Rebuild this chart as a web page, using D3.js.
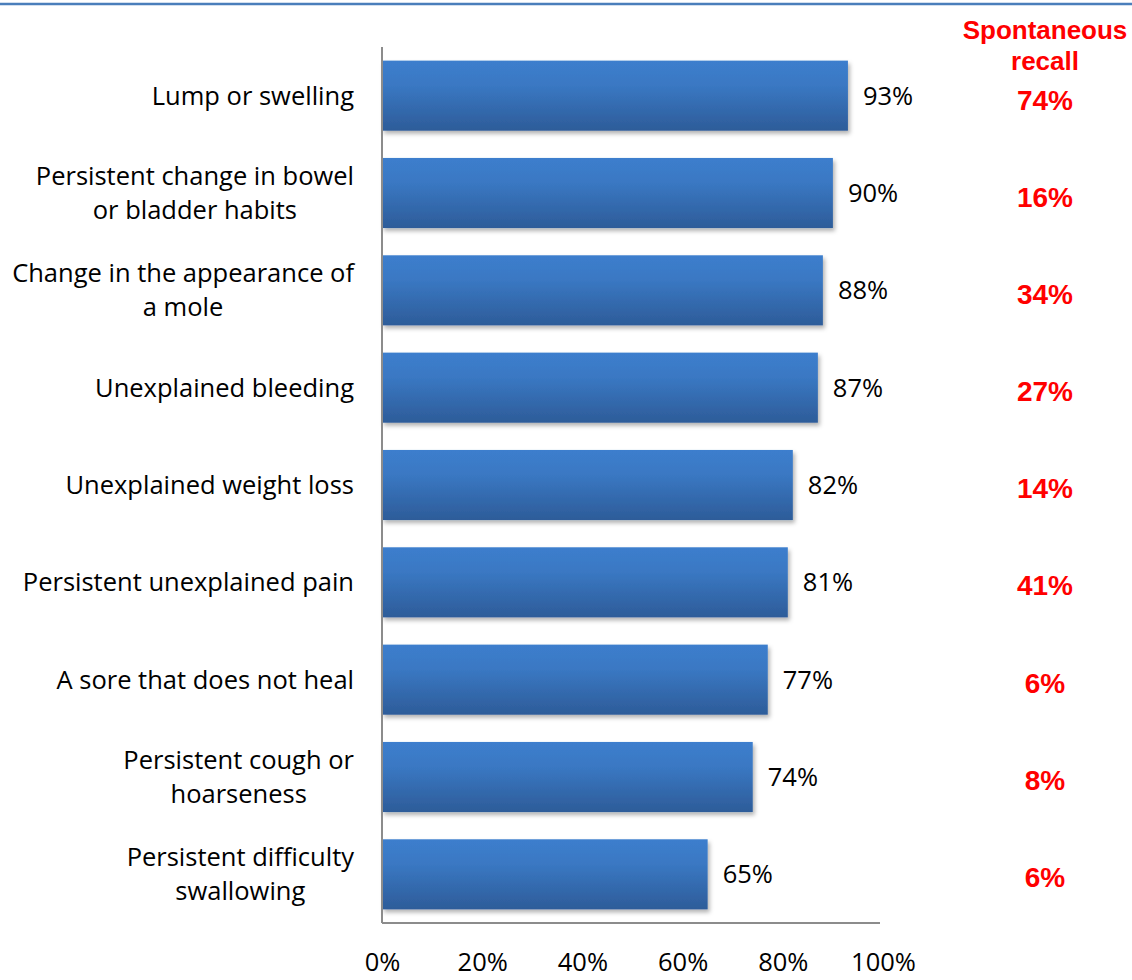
<!DOCTYPE html>
<html>
<head>
<meta charset="utf-8">
<script src="https://cdn.jsdelivr.net/npm/d3@7"></script>
<style>
  html, body { margin: 0; padding: 0; background: #fff; }
  svg { display: block; }
</style>
</head>
<body>
<svg id="chart" width="1132" height="980"></svg>
<script>
// Symptom categories (each inner array = lines of the label)
const categories = [
  ["Lump or swelling"],
  ["Persistent change in bowel", "or bladder habits"],
  ["Change in the appearance of", "a mole"],
  ["Unexplained bleeding"],
  ["Unexplained weight loss"],
  ["Persistent unexplained pain"],
  ["A sore that does not heal"],
  ["Persistent cough or", "hoarseness"],
  ["Persistent difficulty", "swallowing"]
];
// Prompted awareness (%)
const prompted = [93, 90, 88, 87, 82, 81, 77, 74, 65];
// Spontaneous recall (%)
const recall = [74, 16, 34, 27, 14, 41, 6, 8, 6];
const tickValues = [0, 20, 40, 60, 80, 100];
const recallTitle = ["Spontaneous", "recall"];

const svg = d3.select("#chart");
const W = 1132;
const plot = { left: 382, right: 883, top: 47, bottom: 923 };
const labelFont = "'Open Sans', Lato, sans-serif";
const labelSize = 25.5;

// top rule
svg.append("line")
  .attr("x1", 0).attr("x2", W).attr("y1", 4).attr("y2", 4)
  .attr("stroke", "#4a7ebb").attr("stroke-width", 2.5);

const x = d3.scaleLinear().domain([0, 100]).range([plot.left, plot.right]);
const y = d3.scaleBand().domain(d3.range(categories.length))
  .range([plot.top, plot.bottom]).paddingInner(0.28).paddingOuter(0.14);

// defs: bar gradient and shadow
const defs = svg.append("defs");
const grad = defs.append("linearGradient").attr("id", "barGrad")
  .attr("x1", 0).attr("x2", 0).attr("y1", 0).attr("y2", 1);
grad.append("stop").attr("offset", "0%").attr("stop-color", "#3c7ecd");
grad.append("stop").attr("offset", "35%").attr("stop-color", "#3a78c3");
grad.append("stop").attr("offset", "100%").attr("stop-color", "#2d5c99");
const shadow = defs.append("filter").attr("id", "shadow")
  .attr("x", "-5%").attr("y", "-10%").attr("width", "115%").attr("height", "140%");
shadow.append("feDropShadow").attr("dx", 2).attr("dy", 3).attr("stdDeviation", 2)
  .attr("flood-color", "#000").attr("flood-opacity", 0.3);

// bars
svg.append("g").selectAll("rect").data(prompted).join("rect")
  .attr("x", x(0))
  .attr("y", (d, i) => y(i))
  .attr("width", d => x(d) - x(0))
  .attr("height", y.bandwidth())
  .attr("fill", "url(#barGrad)")
  .attr("filter", "url(#shadow)");

// axes lines
svg.append("line")
  .attr("x1", plot.left).attr("x2", plot.left)
  .attr("y1", plot.top).attr("y2", plot.bottom)
  .attr("stroke", "#8c8c8c").attr("stroke-width", 2);
svg.append("line")
  .attr("x1", plot.left).attr("x2", plot.right - 3)
  .attr("y1", plot.bottom).attr("y2", plot.bottom)
  .attr("stroke", "#8c8c8c").attr("stroke-width", 2);

// x tick labels
const xAxis = d3.axisBottom(x).tickValues(tickValues)
  .tickFormat(d => d + "%").tickSize(0).tickPadding(0);
const gx = svg.append("g").attr("transform", `translate(0, 962)`).call(xAxis);
gx.select(".domain").remove();
gx.selectAll("text").attr("font-family", labelFont).attr("font-size", labelSize)
  .attr("fill", "#000").attr("dy", "0.35em").attr("y", 0);

// value labels
svg.append("g").selectAll("text").data(prompted).join("text")
  .attr("x", d => x(d) + 15)
  .attr("y", (d, i) => y(i) + y.bandwidth() / 2)
  .attr("dy", "0.35em")
  .attr("font-family", labelFont).attr("font-size", labelSize).attr("fill", "#000")
  .text(d => d + "%");

// category labels: block right-aligned to 354, lines centred within block
const catG = svg.append("g");
categories.forEach((lines, i) => {
  const cy = y(i) + y.bandwidth() / 2;
  const lh = 34;
  const t = catG.append("text")
    .attr("font-family", labelFont).attr("font-size", labelSize).attr("fill", "#000");
  const spans = lines.map((ln, k) => t.append("tspan")
    .attr("y", cy + (k - (lines.length - 1) / 2) * lh)
    .attr("dy", "0.35em").text(ln));
  const widths = spans.map(s => s.node().getComputedTextLength());
  const maxW = d3.max(widths);
  const centre = 354 - maxW / 2;
  spans.forEach(s => s.attr("x", centre).attr("text-anchor", "middle"));
});

// spontaneous recall column
const ry = d3.scalePoint().domain(d3.range(recall.length)).range([100, 877]);
const red = "#ff0000";
const redFont = "'Liberation Sans', Arial, sans-serif";
svg.append("g").selectAll("text").data(recallTitle).join("text")
  .attr("x", 1045).attr("y", (d, i) => 30 + i * 31).attr("dy", "0.35em")
  .attr("text-anchor", "middle")
  .attr("font-family", redFont).attr("font-weight", "bold").attr("font-size", 26)
  .attr("fill", red).text(d => d);
svg.append("g").selectAll("text").data(recall).join("text")
  .attr("x", 1045).attr("y", (d, i) => ry(i)).attr("dy", "0.35em")
  .attr("text-anchor", "middle")
  .attr("font-family", redFont).attr("font-weight", "bold").attr("font-size", 28)
  .attr("fill", red).text(d => d + "%");
</script>
</body>
</html>
